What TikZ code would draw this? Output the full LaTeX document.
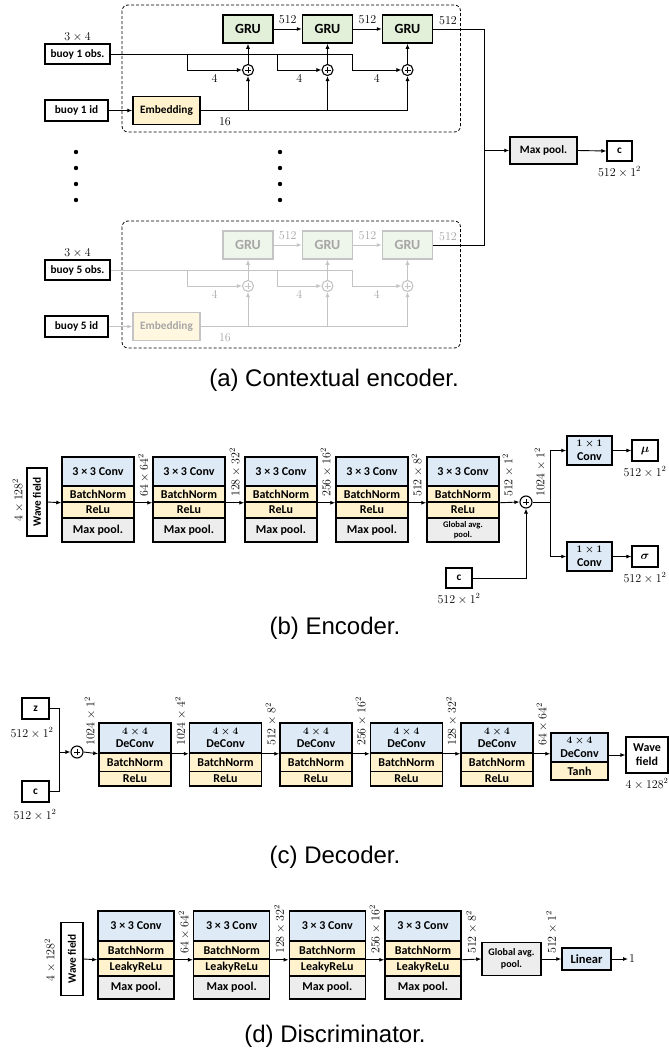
\documentclass[tikz,border=0pt]{standalone}
\usepackage{amsmath}
\usepackage{fontspec}
\setmainfont{Carlito}
\newfontfamily\capfont{Liberation Sans}
\usetikzlibrary{arrows.meta,calc}
\definecolor{cblue}{HTML}{DEEBF7}
\definecolor{cyel}{HTML}{FFF2CC}
\definecolor{cgray}{HTML}{EDEDED}
\definecolor{cgreen}{HTML}{E2F0D9}
\definecolor{fgreen}{HTML}{EEF5EA}
\definecolor{fyel}{HTML}{FFF7E0}
\definecolor{fline}{HTML}{C4C4C4}
\definecolor{ftext}{HTML}{A6A6A6}
\colorlet{lnc}{black}
\colorlet{txc}{black}
\colorlet{gfc}{cgreen}
\colorlet{efc}{cyel}
\begin{document}
\begin{tikzpicture}[x=1pt,y=-1pt,
  cell/.style={draw, line width=1.5pt, inner sep=0pt, align=center, font=\fontsize{12}{13.5}\selectfont\bfseries},
  sbox/.style={draw, line width=1.2pt, fill=white, inner sep=0pt, align=center, font=\fontsize{11.3}{13}\selectfont\bfseries},
  lab/.style={inner sep=1pt, text=txc, font=\fontsize{12}{13}\selectfont},
  rlab/.style={lab, rotate=90, anchor=west},
  ln/.style={draw=lnc, line width=0.9pt},
  arr/.style={ln, -{Latex[length=5pt,width=4pt]}},
  oplus/.style={circle, draw=lnc, line width=1.1pt, minimum size=11pt, inner sep=0pt, fill=white,
    path picture={\draw[lnc, line width=1pt]
      ([xshift=-3pt]path picture bounding box.center) -- ([xshift=3pt]path picture bounding box.center)
      ([yshift=-3pt]path picture bounding box.center) -- ([yshift=3pt]path picture bounding box.center);}},
  grub/.style={cell, fill=gfc, draw=lnc, text=txc, minimum width=50, minimum height=28, font=\fontsize{14}{16}\selectfont\bfseries},
  embb/.style={cell, fill=efc, draw=lnc, text=txc, minimum width=67, minimum height=28, font=\fontsize{11.3}{13}\selectfont\bfseries},
  capt/.style={font=\capfont\fontsize{24}{28}\selectfont},
  frame/.style={draw, line width=0.8pt, dash pattern=on 3pt off 2pt, rounded corners=6pt},
  cv/.style={font=\fontsize{10}{11}\selectfont\boldmath}
]
\useasboundingbox (0,0) rectangle (669,1055);
\fill[white] (0,0) rectangle (669,1055);

% ================= (a) Contextual encoder =================
\coordinate (mpj) at (484,150.5);
\foreach \k/\dy/\lc/\gf/\ef/\tc in {1/0/black/cgreen/cyel/black,5/216/fline/fgreen/fyel/ftext}{
  \colorlet{lnc}{\lc}\colorlet{gfc}{\gf}\colorlet{efc}{\ef}\colorlet{txc}{\tc}
  \draw[frame] (122,{5+\dy}) rectangle (460.5,{132+\dy});
  \node[sbox, minimum width=65, minimum height=20] (obs\k) at (77.5,{54+\dy}) {buoy \k{} obs.};
  \node[lab, text=black, above=1pt] (dimobs\k) at (obs\k.north) {$3\times4$};
  \node[sbox, minimum width=63, minimum height=21] (id\k) at (76.5,{110.5+\dy}) {buoy \k{} id};
  \node[embb] (emb\k) at (166.5,{110.5+\dy}) {Embedding};
  \foreach \g/\gx in {1/248,2/327.5,3/407.5}{
    \node[grub] (g\k-\g) at (\gx,{29+\dy}) {GRU};
    \node[oplus] (p\k-\g) at (\gx,{70+\dy}) {};
    \draw[arr] (p\k-\g) -- (g\k-\g);
  }
  \coordinate (j\k-1) at (187,{54+\dy});
  \coordinate (j\k-2) at (277,{54+\dy});
  \coordinate (j\k-3) at (352,{54+\dy});
  \draw[ln] (obs\k.east) -- (j\k-3);
  \foreach \g in {1,2,3}{
    \draw[arr] (j\k-\g) |- (p\k-\g.west) node[lab, pos=0.75, below=3pt] {$4$};
  }
  \draw[arr] (id\k.east) -- (emb\k.west);
  \draw[arr] (emb\k.east) -| (p\k-3.south);
  \draw[arr] (p\k-1.south |- emb\k.east) -- (p\k-1.south);
  \draw[arr] (p\k-2.south |- emb\k.east) -- (p\k-2.south);
  \node[lab] (sixteen\k) at (225,{122+\dy}) {$16$};
  \draw[arr] (g\k-1) -- (g\k-2) node[lab, midway, above=4pt] {$512$};
  \draw[arr] (g\k-2) -- (g\k-3) node[lab, midway, above=4pt] {$512$};
  \node[lab] (out\k) at (448,{21+\dy}) {$512$};
  \draw[line width=0.9pt] (g\k-3.east) -| (mpj);
}
\node[cell, fill=cgray, minimum width=67, minimum height=27, font=\fontsize{11.3}{13}\selectfont\bfseries] (mp) at (543.5,150.5) {Max pool.};
\draw[arr] (mpj) -- (mp.west);
\node[sbox, minimum width=25, minimum height=20] (ca) at (619.5,151) {c};
\draw[arr] (mp.east) -- (ca.west);
\node[lab, below=4pt] (cadim) at (ca.south) {$512\times1^2$};
\foreach \yy in {152,168,184,200}{
  \fill (76,\yy) circle (2.2pt);
  \fill (280,\yy) circle (2.2pt);
}
\node[capt] (capa) at (334,380) {(a) Contextual encoder.};

% ================= (b) Encoder =================
\node[sbox, rotate=90, minimum width=68, minimum height=20] (wfb) at (37,502) {Wave field};
\node[lab, rotate=90] (wfbdim) at (18,500) {$4\times128^2$};
\foreach \i/\x in {1/98,2/189,3/281,4/372,5/463}{
  \node[cell, fill=cblue, minimum width=72, minimum height=29] (en\i-c) at (\x,471.5) {3 × 3 Conv};
  \node[cell, fill=cyel, minimum width=72, minimum height=16] (en\i-n) at (\x,494) {BatchNorm};
  \node[cell, fill=cyel, minimum width=72, minimum height=16] (en\i-r) at (\x,510) {ReLu};
}
\foreach \i/\x in {1/98,2/189,3/281,4/372}{
  \node[cell, fill=cgray, minimum width=72, minimum height=24] (en\i-p) at (\x,530) {Max pool.};
}
\node[cell, fill=cgray, minimum width=72, minimum height=24, font=\fontsize{8.6}{9.5}\selectfont\bfseries] (en5-p) at (463,530) {Global avg.\\pool.};
\draw[arr] (wfb.south) -- (en1-n.south west);
\foreach \i/\j in {1/2,2/3,3/4,4/5}{
  \draw[arr] (en\i-n.south east) -- (en\j-n.south west);
}
\node[rlab] (eb1) at (143.5,498) {$64\times64^2$};
\node[rlab] (eb2) at (235,498) {$128\times32^2$};
\node[rlab] (eb3) at (326,498) {$256\times16^2$};
\node[rlab] (eb4) at (417,498) {$512\times8^2$};
\node[rlab] (eb5) at (508,498) {$512\times1^2$};
\node[oplus, minimum size=12pt] (pb) at (526,502) {};
\draw[arr] (en5-n.south east) -- (pb.west);
\coordinate (jb) at (550,502);
\node[rlab] (eb6) at (540,498) {$1024\times1^2$};
\node[cell, fill=cblue, minimum width=45, minimum height=29] (cmu) at (589.5,450.5) {{\fontsize{10}{11}\selectfont\boldmath$1\times1$}\\Conv};
\node[cell, fill=cblue, minimum width=45, minimum height=29] (csig) at (589.5,556.5) {{\fontsize{10}{11}\selectfont\boldmath$1\times1$}\\Conv};
\draw[ln] (pb.east) -- (jb);
\draw[arr] (jb) |- (cmu.west);
\draw[arr] (jb) |- (csig.west);
\node[sbox, minimum width=26, minimum height=21, font=\fontsize{12}{13}\selectfont] (mu) at (645,450.5) {$\boldsymbol{\mu}$};
\node[sbox, minimum width=26, minimum height=21, font=\fontsize{12}{13}\selectfont] (sig) at (645,556.5) {$\boldsymbol{\sigma}$};
\draw[arr] (cmu.east) -- (mu.west);
\draw[arr] (csig.east) -- (sig.west);
\node[lab, below=4pt] (mudim) at (mu.south) {$512\times1^2$};
\node[lab, below=4pt] (sigdim) at (sig.south) {$512\times1^2$};
\node[sbox, minimum width=26, minimum height=20] (cb) at (459,578) {c};
\draw[arr] (cb.east) -| (pb.south);
\node[lab, below=4pt] (cbdim) at (cb.south) {$512\times1^2$};
\node[capt] (capb) at (335,628) {(b) Encoder.};

% ================= (c) Decoder =================
\node[sbox, minimum width=27, minimum height=21] (zc) at (35.5,708.5) {z};
\node[lab] (zcdim) at (32,733) {$512\times1^2$};
\node[sbox, minimum width=27, minimum height=21] (cc) at (35.5,791.5) {c};
\node[lab] (ccdim) at (35,815) {$512\times1^2$};
\coordinate (jc) at (59,752);
\draw[ln] (zc.east) -| (jc);
\draw[ln] (cc.east) -| (jc);
\node[oplus, minimum size=12pt] (pc) at (77,752) {};
\draw[arr] (jc) -- (pc.west);
\foreach \i/\x in {1/135,2/225.5,3/316,4/406.5,5/497}{
  \node[cell, fill=cblue, minimum width=72, minimum height=30] (dc\i-c) at (\x,738) {{\fontsize{10}{11}\selectfont\boldmath$4\times4$}\\DeConv};
  \node[cell, fill=cyel, minimum width=72, minimum height=18.5] (dc\i-n) at (\x,762.25) {BatchNorm};
  \node[cell, fill=cyel, minimum width=72, minimum height=14.5] (dc\i-r) at (\x,778.75) {ReLu};
}
\node[cell, fill=cblue, minimum width=57, minimum height=29] (dc6-c) at (579.5,747.5) {{\fontsize{10}{11}\selectfont\boldmath$4\times4$}\\DeConv};
\node[cell, fill=cyel, minimum width=57, minimum height=18] (dc6-t) at (579.5,771) {Tanh};
\draw[arr] (pc.east) -- (dc1-c.south west);
\foreach \i/\j in {1/2,2/3,3/4,4/5}{
  \draw[arr] (dc\i-c.south east) -- (dc\j-c.south west);
}
\draw[arr] (dc5-c.south east) -- (dc5-c.south east -| dc6-c.west);
\node[sbox, minimum width=42, minimum height=36, font=\fontsize{12}{14}\selectfont\bfseries] (wfc) at (647,755) {Wave\\field};
\draw[arr] (dc6-c.east |- wfc.west) -- (wfc.west);
\node[lab, below=4pt] (wfcdim) at (wfc.south) {$4\times128^2$};
\node[rlab] (dl1) at (90,747) {$1024\times1^2$};
\node[rlab] (dl2) at (180.5,747) {$1024\times4^2$};
\node[rlab] (dl3) at (271,747) {$512\times8^2$};
\node[rlab] (dl4) at (361,747) {$256\times16^2$};
\node[rlab] (dl5) at (451.5,747) {$128\times32^2$};
\node[rlab] (dl6) at (542,747) {$64\times64^2$};
\node[capt] (capc) at (335,857) {(c) Decoder.};

% ================= (d) Discriminator =================
\node[sbox, rotate=90, minimum width=73, minimum height=22] (wfd) at (72,959) {Wave field};
\node[lab, rotate=90] (wfddim) at (50,960) {$4\times128^2$};
\foreach \i/\x in {1/136,2/231.7,3/327.3,4/423}{
  \node[cell, fill=cblue, minimum width=76, minimum height=30] (ds\i-c) at (\x,926) {3 × 3 Conv};
  \node[cell, fill=cyel, minimum width=76, minimum height=18] (ds\i-n) at (\x,950) {BatchNorm};
  \node[cell, fill=cyel, minimum width=76, minimum height=17] (ds\i-r) at (\x,967.5) {LeakyReLu};
  \node[cell, fill=cgray, minimum width=76, minimum height=23] (ds\i-p) at (\x,987.5) {Max pool.};
}
\draw[arr] (wfd.south) -- (ds1-n.south west);
\foreach \i/\j in {1/2,2/3,3/4}{
  \draw[arr] (ds\i-n.south east) -- (ds\j-n.south west);
}
\node[cell, fill=cgray, minimum width=59, minimum height=33, font=\fontsize{10}{12}\selectfont\bfseries] (gap) at (511.5,959) {Global avg.\\pool.};
\draw[arr] (ds4-n.south east) -- (gap.west);
\node[cell, fill=cblue, minimum width=49, minimum height=22, font=\fontsize{12.5}{14}\selectfont\bfseries] (lin) at (586.5,959) {Linear};
\draw[arr] (gap.east) -- (lin.west);
\node[lab, anchor=west] (one) at (628,959) {$1$};
\draw[arr] (lin.east) -- (one.west);
\node[rlab] (ds1) at (184,955) {$64\times64^2$};
\node[rlab] (ds2) at (279.5,955) {$128\times32^2$};
\node[rlab] (ds3) at (375,955) {$256\times16^2$};
\node[rlab] (ds4) at (471.5,955) {$512\times8^2$};
\node[rlab] (ds5) at (551.5,955) {$512\times1^2$};
\node[capt] (capd) at (335,1036) {(d) Discriminator.};
\end{tikzpicture}
\end{document}
